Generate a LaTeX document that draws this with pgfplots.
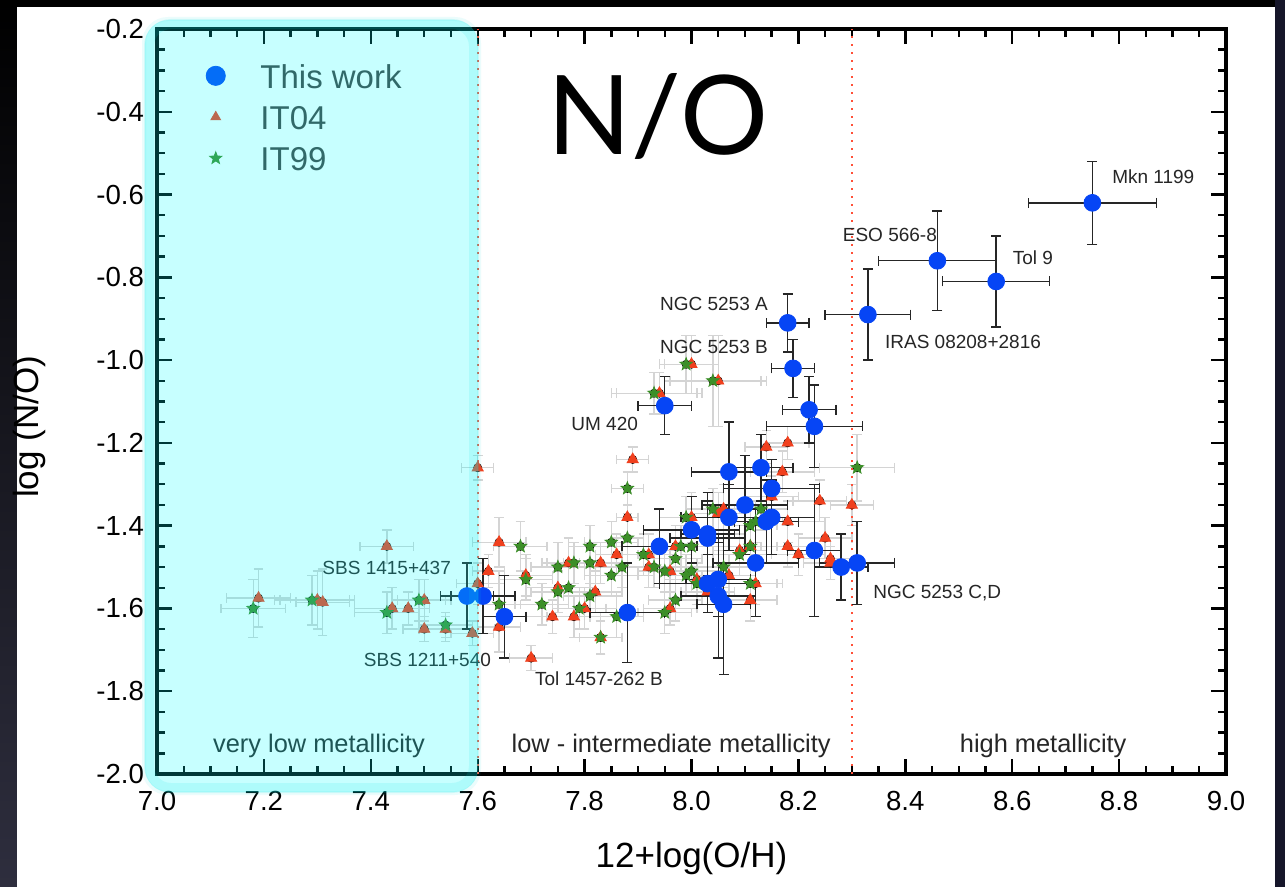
\documentclass[border=0pt]{standalone}
\usepackage{fontspec}
\setmainfont{Liberation Sans}
\newfontfamily\titlefont{Lato}
\usepackage{pgfplots}
\usepackage{pgfplotstable}
\pgfplotsset{compat=1.18}
\usetikzlibrary{plotmarks}

\definecolor{TWblue}{HTML}{0645F5}
\definecolor{ITred}{HTML}{F0401E}
\definecolor{ITgreen}{HTML}{3C8F28}
\definecolor{ErrGray}{HTML}{D4D4D4}
\definecolor{ErrDark}{HTML}{262626}
\definecolor{LegText}{HTML}{404040}
\definecolor{DotRed}{HTML}{FF5038}
\definecolor{SideDark}{HTML}{2E2E3E}
\definecolor{SideRight}{HTML}{16162A}
\definecolor{Cyan}{RGB}{0,255,255}
\definecolor{CyanEdge}{RGB}{0,225,225}

% filled five-pointed star
\pgfdeclareplotmark{fstar}{%
  \pgfpathmoveto{\pgfpointpolar{90}{\pgfplotmarksize}}%
  \pgfpathlineto{\pgfpointpolar{126}{0.42\pgfplotmarksize}}%
  \pgfpathlineto{\pgfpointpolar{162}{\pgfplotmarksize}}%
  \pgfpathlineto{\pgfpointpolar{198}{0.42\pgfplotmarksize}}%
  \pgfpathlineto{\pgfpointpolar{234}{\pgfplotmarksize}}%
  \pgfpathlineto{\pgfpointpolar{270}{0.42\pgfplotmarksize}}%
  \pgfpathlineto{\pgfpointpolar{306}{\pgfplotmarksize}}%
  \pgfpathlineto{\pgfpointpolar{342}{0.42\pgfplotmarksize}}%
  \pgfpathlineto{\pgfpointpolar{18}{\pgfplotmarksize}}%
  \pgfpathlineto{\pgfpointpolar{54}{0.42\pgfplotmarksize}}%
  \pgfpathclose\pgfusepathqfillstroke}

% IT04: x y ex ey
\pgfplotstableread{
x y ex ey
7.19 -1.575 0.06 0.07
7.30 -1.58 0.07 0.07
7.31 -1.585 0.05 0.08
7.43 -1.45 0.05 0.04
7.44 -1.60 0.07 0.05
7.47 -1.60 0.04 0.04
7.50 -1.58 0.05 0.05
7.50 -1.65 0.04 0.03
7.54 -1.65 0.05 0.03
7.59 -1.66 0.04 0.03
7.60 -1.26 0.03 0.03
7.60 -1.54 0.04 0.05
7.62 -1.51 0.03 0.04
7.64 -1.44 0.05 0.06
7.64 -1.645 0.04 0.06
7.69 -1.52 0.05 0.05
7.70 -1.72 0.04 0.03
7.74 -1.62 0.05 0.04
7.75 -1.55 0.06 0.05
7.77 -1.49 0.05 0.06
7.78 -1.62 0.05 0.05
7.80 -1.60 0.06 0.05
7.82 -1.56 0.05 0.05
7.83 -1.49 0.04 0.05
7.83 -1.67 0.04 0.04
7.86 -1.47 0.04 0.05
7.88 -1.38 0.02 0.06
7.89 -1.24 0.03 0.03
7.92 -1.47 0.05 0.05
7.92 -1.50 0.05 0.05
7.94 -1.08 0.08 0.05
7.96 -1.60 0.05 0.04
7.96 -1.51 0.05 0.05
7.97 -1.45 0.06 0.05
8.00 -1.01 0.05 0.07
8.00 -1.38 0.06 0.06
8.01 -1.53 0.06 0.05
8.03 -1.56 0.05 0.05
8.05 -1.05 0.09 0.11
8.05 -1.37 0.05 0.05
8.06 -1.36 0.06 0.06
8.07 -1.52 0.05 0.05
8.09 -1.46 0.05 0.06
8.11 -1.45 0.05 0.05
8.11 -1.58 0.05 0.05
8.12 -1.54 0.05 0.05
8.14 -1.21 0.04 0.04
8.15 -1.33 0.05 0.05
8.17 -1.27 0.06 0.05
8.18 -1.20 0.04 0.04
8.18 -1.39 0.05 0.05
8.18 -1.45 0.05 0.05
8.20 -1.47 0.05 0.05
8.24 -1.34 0.05 0.05
8.25 -1.43 0.05 0.05
8.26 -1.48 0.05 0.05
8.26 -1.49 0.05 0.04
8.30 -1.35 0.04 0.05
}\tabITfour

% IT99: x y ex ey
\pgfplotstableread{
x y ex ey
7.18 -1.60 0.06 0.07
7.29 -1.58 0.07 0.06
7.43 -1.61 0.06 0.05
7.49 -1.58 0.05 0.05
7.54 -1.64 0.05 0.03
7.64 -1.59 0.04 0.05
7.68 -1.45 0.05 0.06
7.69 -1.53 0.05 0.05
7.72 -1.59 0.05 0.05
7.75 -1.50 0.05 0.06
7.75 -1.56 0.05 0.05
7.77 -1.55 0.05 0.05
7.78 -1.49 0.05 0.05
7.79 -1.60 0.05 0.05
7.81 -1.45 0.04 0.05
7.81 -1.49 0.05 0.05
7.81 -1.57 0.05 0.05
7.83 -1.67 0.04 0.04
7.85 -1.44 0.05 0.05
7.85 -1.52 0.05 0.05
7.86 -1.62 0.05 0.05
7.87 -1.50 0.05 0.05
7.88 -1.31 0.03 0.04
7.88 -1.43 0.03 0.06
7.91 -1.47 0.05 0.05
7.93 -1.08 0.08 0.05
7.93 -1.50 0.05 0.05
7.95 -1.51 0.05 0.05
7.95 -1.61 0.05 0.05
7.97 -1.48 0.05 0.05
7.97 -1.58 0.05 0.05
7.98 -1.45 0.05 0.05
7.99 -1.01 0.05 0.07
7.99 -1.38 0.05 0.05
7.99 -1.52 0.05 0.05
8.00 -1.45 0.05 0.05
8.00 -1.51 0.05 0.05
8.01 -1.54 0.05 0.05
8.04 -1.05 0.09 0.11
8.04 -1.36 0.05 0.05
8.06 -1.50 0.05 0.05
8.09 -1.47 0.05 0.05
8.11 -1.40 0.05 0.05
8.11 -1.45 0.05 0.05
8.11 -1.54 0.05 0.05
8.12 -1.39 0.05 0.05
8.13 -1.36 0.05 0.05
8.31 -1.26 0.07 0.08
}\tabITnine

% This work: x y ex ey
\pgfplotstableread{
x y ex ey
8.75 -0.62 0.12 0.10
8.46 -0.76 0.11 0.12
8.57 -0.81 0.10 0.11
8.33 -0.89 0.08 0.11
8.18 -0.91 0.04 0.07
8.19 -1.02 0.04 0.07
7.95 -1.11 0.05 0.07
8.22 -1.12 0.05 0.08
8.23 -1.16 0.09 0.10
8.07 -1.27 0.07 0.12
8.13 -1.26 0.06 0.08
8.15 -1.31 0.09 0.07
8.10 -1.35 0.08 0.12
8.07 -1.38 0.09 0.08
8.15 -1.38 0.08 0.09
8.14 -1.39 0.06 0.10
8.00 -1.41 0.09 0.08
8.03 -1.42 0.05 0.10
8.03 -1.43 0.07 0.09
7.94 -1.45 0.07 0.09
8.12 -1.49 0.08 0.13
8.23 -1.46 0.05 0.16
8.28 -1.50 0.05 0.08
8.31 -1.49 0.07 0.10
8.03 -1.54 0.09 0.07
8.05 -1.53 0.06 0.09
8.05 -1.57 0.07 0.15
8.06 -1.59 0.05 0.17
7.88 -1.61 0.07 0.12
7.58 -1.57 0.05 0.08
7.61 -1.57 0.06 0.09
7.65 -1.62 0.04 0.10
}\tabThis

\begin{document}
\begin{tikzpicture}
% dark frame and white page, in pixel units (origin top left)
\begin{scope}[x=0.5pt,y=-0.5pt]
\path[use as bounding box] (0,0) rectangle (1285,887);
\fill[black] (0,0) rectangle (1285,887);
\shade[top color=black, bottom color=SideDark] (0,0) rectangle (17,887);
\fill[SideRight] (1275,0) rectangle (1285,887);
\fill[white] (17,7) rectangle (1275,887);
\end{scope}

\begin{axis}[
    at={(78.5pt,-14.5pt)}, anchor=north west,
    scale only axis, width=534.5pt, height=372.5pt,
    xmin=7, xmax=9, ymin=-2, ymax=-0.2,
    xtick={7,7.2,7.4,7.6,7.8,8,8.2,8.4,8.6,8.8,9},
    ytick={-2,-1.8,-1.6,-1.4,-1.2,-1,-0.8,-0.6,-0.4,-0.2},
    minor x tick num=3, minor y tick num=3,
    tick align=inside,
    major tick length=7.5pt, minor tick length=4pt,
    every tick/.style={black, line width=1.2pt},
    axis line style={black, line width=1.6pt},
    ticklabel style={font=\fontsize{13.8}{15}\selectfont},
    /pgf/number format/fixed,
    /pgf/number format/fixed zerofill,
    /pgf/number format/precision=1,
    /pgf/number format/assume math mode=true,
    xticklabel style={yshift=-5pt},
    yticklabel style={xshift=-3pt},
    xlabel={12+log(O/H)},
    ylabel={log (N/O)},
    label style={font=\fontsize{17.5}{20}\selectfont},
    xlabel style={at={(axis description cs:0.5,-0.113)}, anchor=center},
    ylabel style={at={(axis description cs:-0.119,0.466)}, anchor=center},
    legend style={at={(axis cs:7.066,-0.27)}, anchor=north west,
        draw=none, fill=none, text=LegText,
        font=\fontsize{16.5}{19}\selectfont,
        nodes={inner sep=1pt, text height=12pt, text depth=4pt},
        row sep=2.6pt},
    legend cell align=left,
    legend image code/.code={%
        \path[draw=none, fill=none] (0cm,0cm) -- (1.05cm,0.1cm);
        \draw[mark repeat=2,mark phase=2,#1]
        plot coordinates {(0cm,0.08cm) (0.3cm,0.08cm) (1.05cm,0.08cm)};},
]
\addlegendimage{only marks, mark=*, mark size=4.8pt, TWblue}
\addlegendentry{This work}
\addlegendimage{only marks, mark=triangle*, mark size=2.8pt, ITred}
\addlegendentry{IT04}
\addlegendimage{only marks, mark=fstar, mark size=3.2pt, ITgreen}
\addlegendentry{IT99}

% gray error bars of the literature samples
\addplot[forget plot, only marks, mark=none,
    error bars/.cd, x dir=both, x explicit, y dir=both, y explicit,
    error bar style={ErrGray, line width=0.7pt},
    error mark options={rotate=90, ErrGray, mark size=2.4pt, line width=0.7pt}]
    table[x=x, y=y, x error=ex, y error=ey] {\tabITfour};
\addplot[forget plot, only marks, mark=none,
    error bars/.cd, x dir=both, x explicit, y dir=both, y explicit,
    error bar style={ErrGray, line width=0.7pt},
    error mark options={rotate=90, ErrGray, mark size=2.4pt, line width=0.7pt}]
    table[x=x, y=y, x error=ex, y error=ey] {\tabITnine};

% metallicity boundaries
\draw[DotRed, line width=1.2pt, dash pattern=on 1.1pt off 2.9pt]
    (axis cs:7.6,-2) -- (axis cs:7.6,-0.2);
\draw[DotRed, line width=1.2pt, dash pattern=on 1.1pt off 2.9pt]
    (axis cs:8.3,-2) -- (axis cs:8.3,-0.2);

\addplot[forget plot, only marks, mark=triangle*, mark size=3.2pt, ITred]
    table[x=x, y=y] {\tabITfour};
\addplot[forget plot, only marks, mark=fstar, mark size=3.3pt, ITgreen]
    table[x=x, y=y] {\tabITnine};

% this work
\addplot[forget plot, only marks, mark=none,
    error bars/.cd, x dir=both, x explicit, y dir=both, y explicit,
    error bar style={ErrDark, line width=0.7pt},
    error mark options={rotate=90, ErrDark, mark size=2.5pt, line width=0.7pt}]
    table[x=x, y=y, x error=ex, y error=ey] {\tabThis};
\addplot[forget plot, only marks, mark=*, mark size=4.2pt, TWblue]
    table[x=x, y=y] {\tabThis};

% object names
\begin{scope}[font=\fontsize{9.5}{11}\selectfont, text=ErrDark]
\node[anchor=base west] at (axis cs:8.774,-0.5745) {Mkn 1199};
\node[anchor=base west] at (axis cs:8.270,-0.7146) {ESO 566-8};
\node[anchor=base west] at (axis cs:8.588,-0.768) {Tol 9};
\node[anchor=base west] at (axis cs:8.349,-0.973) {IRAS 08208+2816};
\node[anchor=base east] at (axis cs:8.156,-0.879) {NGC 5253 A};
\node[anchor=base east] at (axis cs:8.156,-0.985) {NGC 5253 B};
\node[anchor=base east] at (axis cs:7.913,-1.169) {UM 420};
\node[anchor=base east] at (axis cs:7.563,-1.517) {SBS 1415+437};
\node[anchor=base east] at (axis cs:7.638,-1.741) {SBS 1211+540};
\node[anchor=base west] at (axis cs:7.694,-1.787) {Tol 1457-262 B};
\node[anchor=base west] at (axis cs:8.327,-1.575) {NGC 5253 C,D};
\end{scope}

% region names
\begin{scope}[font=\fontsize{12.7}{14}\selectfont, text=ErrDark]
\node[anchor=base] at (axis cs:7.303,-1.949) {very low metallicity};
\node[anchor=base] at (axis cs:7.962,-1.949) {low - intermediate metallicity};
\node[anchor=base] at (axis cs:8.658,-1.949) {high metallicity};
\end{scope}

\node[anchor=base, font=\titlefont\fontsize{55}{60}\selectfont]
    at (axis cs:7.937,-0.504) {N/O};
\end{axis}

% cyan highlight laid over the very low metallicity zone
\begin{scope}[x=0.5pt,y=-0.5pt]
\fill[Cyan, opacity=0.22, rounded corners=12pt] (145,20) rectangle (478,792);
\draw[CyanEdge, opacity=0.12, line width=5pt, rounded corners=11pt]
    (149,24) rectangle (474,788);
\draw[CyanEdge, opacity=0.08, line width=2pt, rounded corners=12pt]
    (144,19) rectangle (479,793);
\end{scope}
\end{tikzpicture}
\end{document}
